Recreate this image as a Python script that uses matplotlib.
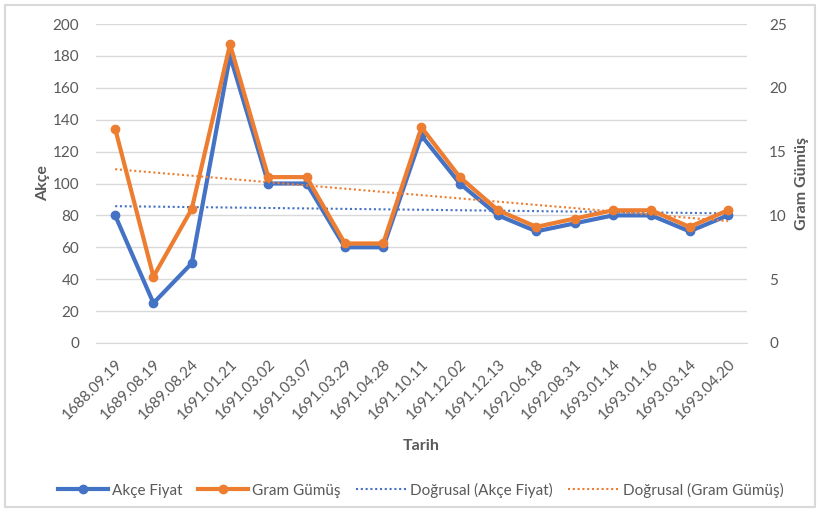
import numpy as np
import matplotlib
matplotlib.use('Agg')
import matplotlib.pyplot as plt
from matplotlib.patches import Rectangle

plt.rcParams['font.family'] = ['Lato', 'DejaVu Sans']

dates = ['1688.09.19', '1689.08.19', '1689.08.24', '1691.01.21', '1691.03.02',
         '1691.03.07', '1691.03.29', '1691.04.28', '1691.10.11', '1691.12.02',
         '1691.12.13', '1692.06.18', '1692.08.31', '1693.01.14', '1693.01.16',
         '1693.03.14', '1693.04.20']
akce = [80, 25, 50, 180, 100, 100, 60, 60, 130, 100, 80, 70, 75, 80, 80, 70, 80]
gumus = [16.8, 5.2, 10.5, 23.4, 13, 13, 7.8, 7.8, 16.9, 13, 10.4, 9.1, 9.75,
         10.4, 10.4, 9.1, 10.4]

BLUE = '#4472C4'
ORANGE = '#ED7D31'
GRAY = '#595959'

fig = plt.figure(figsize=(8.2, 5.12), dpi=100)
ax = fig.add_axes([96 / 820, 1 - 343 / 512, 651 / 820, 319 / 512])
ax2 = ax.twinx()

x = np.arange(len(dates))
l1, = ax.plot(x, akce, color=BLUE, lw=3, marker='o', ms=6, label='Akçe Fiyat', zorder=3)
l2, = ax2.plot(x, gumus, color=ORANGE, lw=3, marker='o', ms=6, label='Gram Gümüş', zorder=3)

# linear trend lines
p1 = np.polyfit(x, akce, 1)
p2 = np.polyfit(x, gumus, 1)
t1, = ax.plot(x, np.polyval(p1, x), color=BLUE, lw=1.5, ls=(0, (1, 1.3)),
              label='Doğrusal (Akçe Fiyat)', zorder=2)
t2, = ax2.plot(x, np.polyval(p2, x), color=ORANGE, lw=1.5, ls=(0, (1, 1.3)),
               label='Doğrusal (Gram Gümüş)', zorder=2)

ax.set_xlim(-0.5, len(dates) - 0.5)
ax.set_ylim(0, 200)
ax.set_yticks(range(0, 201, 20))
ax2.set_ylim(0, 25)
ax2.set_yticks(range(0, 26, 5))
ax.yaxis.grid(True, color='#d9d9d9', lw=1)
ax.set_axisbelow(True)

for a in (ax, ax2):
    for s in a.spines.values():
        s.set_visible(False)
    a.tick_params(length=0, labelsize=11, labelcolor=GRAY)
ax.spines['bottom'].set_visible(True)
ax.spines['bottom'].set_color('#d9d9d9')

ax.set_xticks(x)
ax.set_xticklabels(dates, rotation=45, ha='right', rotation_mode='anchor')
ax.tick_params(axis='x', pad=10)
ax.tick_params(axis='y', pad=12)
ax2.tick_params(axis='y', pad=16)

ax.set_ylabel('Akçe', fontsize=11.5, fontweight='bold', color=GRAY, labelpad=2)
ax2.set_ylabel('Gram Gümüş', fontsize=11.5, fontweight='bold', color=GRAY, labelpad=6)
ax.set_xlabel('Tarih', fontsize=11.5, fontweight='bold', color=GRAY, labelpad=12)

fig.legend(handles=[l1, l2, t1, t2], loc='center', bbox_to_anchor=(0.513, 1 - 490 / 512),
           ncol=4, frameon=False, fontsize=11, handlelength=3.3, handletextpad=0.25,
           columnspacing=1.0, labelcolor=GRAY)

fig.patches.append(Rectangle((5 / 820, 5 / 512), 810 / 820, 502 / 512, transform=fig.transFigure,
                             fill=False, edgecolor='#d9d9d9', lw=1.5))

fig.savefig('out.png', dpi=100)
